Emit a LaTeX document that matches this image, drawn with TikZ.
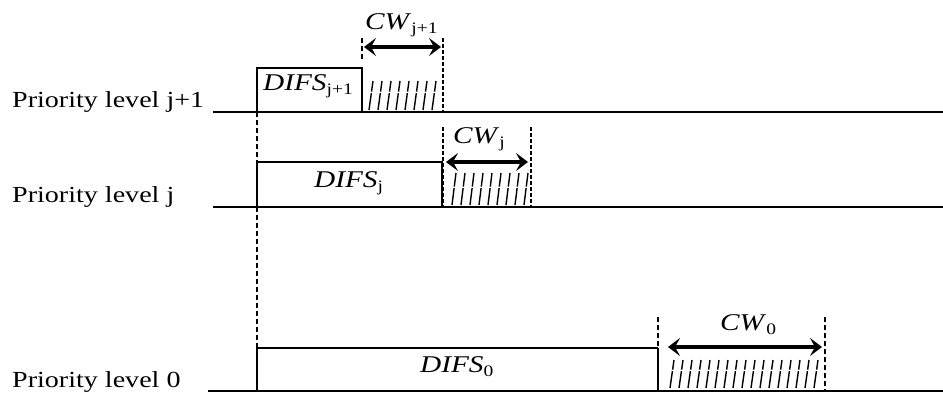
\documentclass[tikz,border=0pt]{standalone}
\usepackage{fontspec}
\setmainfont{Liberation Serif}
\usetikzlibrary{arrows.meta}
\newcommand\wideTxt[1]{\scalebox{1.22}[1]{#1}}
\newcommand\lvlTxt[1]{\fontsize{23}{26}\selectfont\wideTxt{#1}}
\newcommand\symTxt[2]{\fontsize{24}{26}\selectfont\wideTxt{\textit{#1}\raisebox{-4pt}{\fontsize{16}{16}\selectfont #2}}}
\tikzset{
  lvlline/.style={line width=1.8pt},
  boxline/.style={line width=1.3pt},
  thindash/.style={line width=1.1pt, dash pattern=on 5pt off 3pt},
  thickdash/.style={line width=2.8pt, dash pattern=on 4pt off 2pt},
  cwarrow/.style={line width=3.6pt, {Stealth[length=12pt,width=18pt,inset=5pt]}-{Stealth[length=12pt,width=18pt,inset=5pt]}},
  hatchline/.style={line width=1.4pt, dash pattern=on 17pt off 1.5pt},
  txt/.style={inner sep=0pt, anchor=base west}
}
\begin{document}
\begin{tikzpicture}[x=1pt,y=-1pt]
\useasboundingbox (0,0) rectangle (943,397);
% level labels
\node[txt] (lab1) at (12,107) {\lvlTxt{Priority level j+1}};
\node[txt] (lab2) at (12,202) {\lvlTxt{Priority level j}};
\node[txt] (lab0) at (12,387) {\lvlTxt{Priority level 0}};
% level lines
\coordinate (l1a) at (213,112); \coordinate (l1b) at (943,112);
\coordinate (l2a) at (213,207); \coordinate (l2b) at (943,207);
\coordinate (l0a) at (208,391); \coordinate (l0b) at (943,391);
\draw[lvlline] (l1a) -- (l1b);
\draw[lvlline] (l2a) -- (l2b);
\draw[lvlline] (l0a) -- (l0b);
% DIFS boxes
\draw[boxline] (257,112) -- (257,68) -- (362,68) -- (362,112);
\draw[boxline] (257,207) -- (257,162) -- (442,162) -- (442,207);
\draw[boxline] (257,391) -- (257,348) -- (658,348);
\draw[line width=2pt] (658,348) -- (658,391);
% long dashed line
\draw[thindash] (257,112) -- (257,162);
\draw[thindash] (257,207) -- (257,348);
% DIFS labels
\node[txt] (d1) at (263,90) {\symTxt{DIFS}{j+1}};
\node[txt] (d2) at (314,187) {\symTxt{DIFS}{j}};
\node[txt] (d0) at (420,372) {\symTxt{DIFS}{0}};
% CW j+1
\draw[thindash] (362,38) -- (362,60);
\draw[thickdash] (443,38) -- (443,112);
\draw[cwarrow] (364,47) -- (441,47);
\node[txt] (c1) at (365,29) {\symTxt{CW}{j+1}};
\foreach \x in {369,378,...,432} \draw[hatchline] (\x,110) -- (\x+4,81);
% CW j
\draw[thickdash] (443,127) -- (443,207);
\draw[thickdash] (531,127) -- (531,207);
\draw[cwarrow] (446,162) -- (528,162);
\node[txt] (c2) at (453,143) {\symTxt{CW}{j}};
\foreach \x in {452,461,...,524} \draw[hatchline] (\x,205) -- (\x+4,173);
% CW 0
\draw[thindash] (658,317) -- (658,348);
\draw[thindash] (825,317) -- (825,391);
\draw[cwarrow] (668,347) -- (822,347);
\node[txt] (c0) at (720,330) {\symTxt{CW}{0}};
\foreach \x in {670,679,...,816} \draw[hatchline] (\x,388) -- (\x+4,360);
\end{tikzpicture}
\end{document}
